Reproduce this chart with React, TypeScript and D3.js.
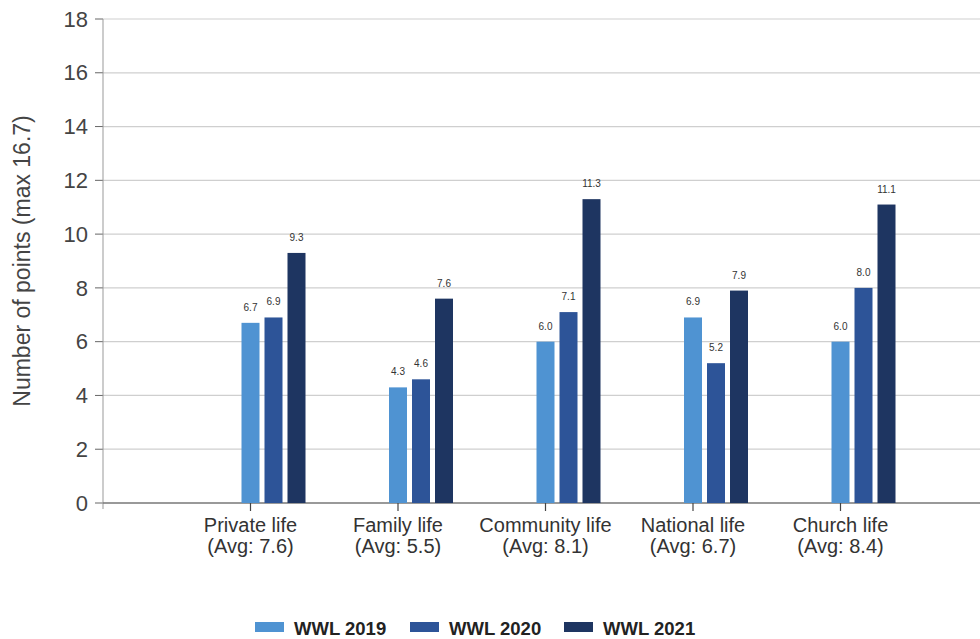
import React from "react";
import * as d3 from "d3";

const categories = ["Private life", "Family life", "Community life", "National life", "Church life"];
const averages = ["(Avg: 7.6)", "(Avg: 5.5)", "(Avg: 8.1)", "(Avg: 6.7)", "(Avg: 8.4)"];
const seriesNames = ["WWL 2019", "WWL 2020", "WWL 2021"];
const wwl2019 = [6.7, 4.3, 6.0, 6.9, 6.0];
const wwl2020 = [6.9, 4.6, 7.1, 5.2, 8.0];
const wwl2021 = [9.3, 7.6, 11.3, 7.9, 11.1];
const yTicks = [0, 2, 4, 6, 8, 10, 12, 14, 16, 18];
const colors = ["#4f93d2", "#2d5498", "#1e3561"];

const W = 980;
const H = 639;
const left = 103;
const top = 19;
const bottom = 503;

export default function App() {
  const series = [wwl2019, wwl2020, wwl2021];
  const y = d3.scaleLinear().domain([0, 18]).range([bottom, top]);
  const x = d3.scaleLinear().domain([0, 6]).range([left, left + 6 * 147.5]);
  const barW = 18;
  const pitch = 23;
  const font = "Arial, 'Liberation Sans', sans-serif";
  const legendX = [255, 410, 564];
  return (
    <svg width={W} height={H} style={{ position: "absolute", left: 0, top: 0, background: "#fff" }}>
      {yTicks.map((t) => (
        <g key={t}>
          {t > 0 && <line x1={left} x2={W} y1={y(t)} y2={y(t)} stroke="#cfcfcf" strokeWidth={1.2} />}
          <line x1={left - 8} x2={left} y1={y(t)} y2={y(t)} stroke="#666" strokeWidth={1} />
          <text x={left - 15} y={y(t)} dy="0.35em" textAnchor="end" fontFamily={font} fontSize={22} fill="#444">
            {t}
          </text>
        </g>
      ))}
      <line x1={left} x2={left} y1={top} y2={bottom + 6} stroke="#999" strokeWidth={1} />
      <line x1={left} x2={W} y1={bottom} y2={bottom} stroke="#777" strokeWidth={1.5} />
      <text
        transform={`translate(30,${(top + bottom) / 2}) rotate(-90)`}
        textAnchor="middle"
        fontFamily={font}
        fontSize={23}
        fill="#444"
      >
        Number of points (max 16.7)
      </text>
      {categories.map((c, i) => {
        const cx = x(i + 1);
        return (
          <g key={c}>
            <line x1={cx} x2={cx} y1={bottom} y2={bottom + 8} stroke="#444" strokeWidth={1.2} />
            <text x={cx} y={532} textAnchor="middle" fontFamily={font} fontSize={20} fill="#333">
              {c}
            </text>
            <text x={cx} y={553} textAnchor="middle" fontFamily={font} fontSize={20} fill="#333">
              {averages[i]}
            </text>
            {series.map((s, j) => {
              const bx = cx - barW / 2 + j * pitch;
              return (
                <g key={j}>
                  <rect x={bx} y={y(s[i])} width={barW} height={bottom - y(s[i])} fill={colors[j]} />
                  <text
                    x={bx + barW / 2}
                    y={y(s[i]) - 12}
                    textAnchor="middle"
                    fontFamily={font}
                    fontSize={10}
                    fill="#333"
                  >
                    {s[i].toFixed(1)}
                  </text>
                </g>
              );
            })}
          </g>
        );
      })}
      {seriesNames.map((n, j) => (
        <g key={n}>
          <rect x={legendX[j]} y={622} width={29} height={10} fill={colors[j]} />
          <text x={legendX[j] + 39} y={635} fontFamily={font} fontSize={18.5} fontWeight="bold" fill="#222">
            {n}
          </text>
        </g>
      ))}
    </svg>
  );
}
